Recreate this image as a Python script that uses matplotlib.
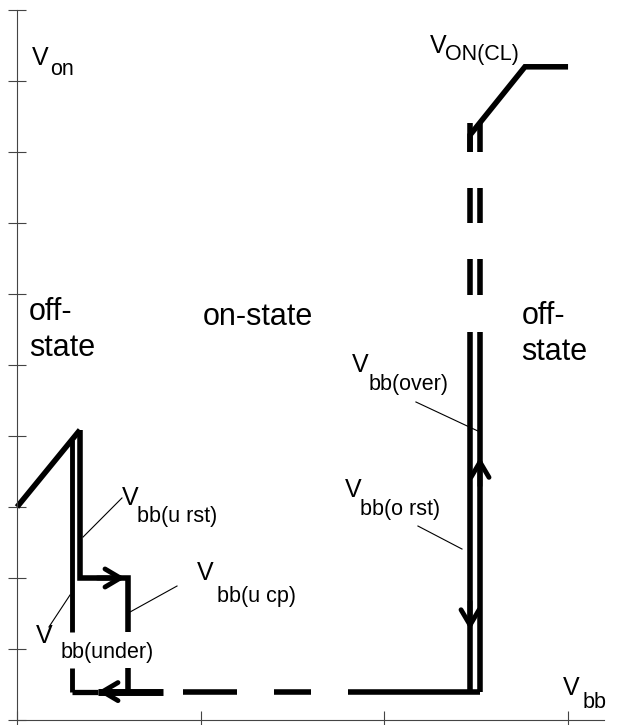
import numpy as np
import matplotlib.pyplot as plt

plt.rcParams['font.family'] = ['Liberation Sans', 'DejaVu Sans']

# Units: x = V_bb tick divisions, y = V_on tick divisions
x_ticks = [0, 1, 2, 3]
y_ticks = list(range(11))

# undervoltage part (left)
ramp_x = [0.0, 0.343]
ramp_y = [3.0, 4.085]
x_under = 0.30
under_segments = [(3.95, 1.24), (0.73, 0.4)]
urst_x = [0.343, 0.343, 0.605, 0.605]
urst_y = [4.085, 2.0, 2.0, 1.24]
ucp_x = [0.605, 0.605]
ucp_y = [0.73, 0.4]
low_level = 0.4
low_thin = (0.30, 0.44)
low_thick = (0.44, 0.796)
low_dashes = [(0.905, 1.199), (1.40, 1.60)]
low_solid = (1.804, 2.523)

# overvoltage part (right)
x_orst = 2.469
x_over = 2.523
vert_segments = [(0.4, 5.47), (5.99, 6.49), (7.0, 7.49), (8.0, 8.41)]
clamp_x = [2.469, 2.469, 2.768, 3.003]
clamp_y = [8.0, 8.24, 9.2, 9.2]

# arrow heads: (tip x, tip y, dx, dy) direction of travel
arrows = [(0.589, 2.0, 1, 0), (0.441, 0.4, -1, 0),
          (2.523, 3.70, 0, 1), (2.469, 1.27, 0, -1)]

# leader lines
leaders = [((0.360, 2.577), (0.572, 3.127)),
           ((0.616, 1.521), (0.872, 1.887)),
           ((0.289, 1.761), (0.174, 1.310)),
           ((2.174, 4.479), (2.512, 4.070)),
           ((2.185, 2.732), (2.425, 2.408))]

# labels: (V x, V y, sub x, sub y, subscript)
labels = [(0.082, 9.225, 0.180, 9.085, 'on'),
          (2.251, 9.394, 2.332, 9.296, 'ON(CL)'),
          (0.572, 3.028, 0.654, 2.789, 'bb(u rst)'),
          (0.981, 1.972, 1.090, 1.662, 'bb(u cp)'),
          (0.104, 1.085, 0.240, 0.873, 'bb(under)'),
          (1.826, 4.901, 1.918, 4.648, 'bb(over)'),
          (1.787, 3.141, 1.869, 2.887, 'bb(o rst)'),
          (2.975, 0.352, 3.084, 0.169, 'bb')]

# state texts, y = baseline of the last line
states = [(0.065, 5.127, 'off-\nstate'), (1.01, 5.563, 'on-state'),
          (2.75, 5.07, 'off-\nstate')]

fig = plt.figure(figsize=(6.23, 7.25), dpi=100)
ax = fig.add_axes([0, 0, 1, 1])
ax.set_xlim(-17 / 183.5, 606 / 183.5)
ax.set_ylim(-5 / 71, 720 / 71)

for s in ['top', 'right']:
    ax.spines[s].set_visible(False)
ax.spines['left'].set_position(('data', 0))
ax.spines['bottom'].set_position(('data', 0))
ax.spines['left'].set_bounds(0, 10)
ax.spines['bottom'].set_bounds(0, 3.2)
for s in ['left', 'bottom']:
    ax.spines[s].set_color('#444444')
    ax.spines[s].set_linewidth(0.8)
ax.set_xticks(x_ticks)
ax.set_yticks(y_ticks)
ax.set_xticklabels([])
ax.set_yticklabels([])
ax.tick_params(direction='inout', length=13, width=0.8, color='#444444')

lw = 4
kw = dict(color='black', solid_capstyle='butt', solid_joinstyle='miter')
ax.plot(ramp_x, ramp_y, lw=lw, **kw)
for y0, y1 in under_segments:
    ax.plot([x_under, x_under], [y0, y1], lw=3.5, **kw)
ax.plot(urst_x, urst_y, lw=lw, **kw)
ax.plot(ucp_x, ucp_y, lw=lw, **kw)
ax.plot(low_thin, [low_level] * 2, lw=3.8, **kw)
ax.plot(low_thick, [low_level] * 2, lw=5, **kw)
for seg in low_dashes:
    ax.plot(seg, [low_level] * 2, lw=lw, **kw)
ax.plot(low_solid, [low_level] * 2, lw=lw, **kw)
for y0, y1 in vert_segments:
    ax.plot([x_orst, x_orst], [y0, y1], lw=lw, **kw)
    ax.plot([x_over, x_over], [y0, y1], lw=lw, **kw)
ax.plot(clamp_x, clamp_y, lw=lw, **kw)

for xt, yt, dx, dy in arrows:
    ax.annotate('', xy=(xt, yt), xytext=(xt - dx * 0.15, yt - dy * 0.4),
                arrowprops=dict(arrowstyle='->,head_length=1.1,head_width=0.65',
                                lw=3.5, color='black', shrinkA=0, shrinkB=0,
                                mutation_scale=10))

for (x0, y0), (x1, y1) in leaders:
    ax.plot([x0, x1], [y0, y1], color='black', lw=0.8)

for vx, vy, sx, sy, sub in labels:
    ax.text(vx, vy, 'V', fontsize=18, ha='left', va='baseline')
    ax.text(sx, sy, sub, fontsize=15.5, ha='left', va='baseline')

for tx, ty, t in states:
    ax.text(tx, ty, t, fontsize=22, ha='left', va='baseline', linespacing=1.25)

fig.savefig('out.png', dpi=100)
